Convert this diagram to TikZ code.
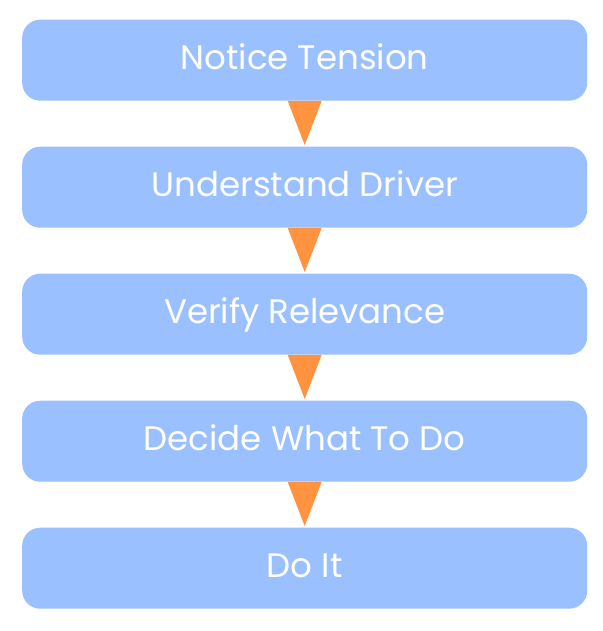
\documentclass[tikz,border=0pt]{standalone}
\usepackage{fontspec}
\setmainfont{Poppins}
\definecolor{boxblue}{HTML}{9BC0FF}
\definecolor{arroworange}{HTML}{FF9340}
\begin{document}
\begin{tikzpicture}[x=1pt,y=-1pt,
  stepbox/.style={fill=boxblue, rounded corners=18pt, minimum width=565pt, minimum height=81pt, inner sep=0pt, text height=24pt, text depth=6pt, text=white, font=\fontsize{34}{40}\selectfont, anchor=north west},
  tri/.style={fill=arroworange}]
\useasboundingbox (0,0) rectangle (602,631);
\node[stepbox] (b1) at (22,19.5) {Notice Tension};
\node[stepbox] (b2) at (22,146.5) {Understand Driver};
\node[stepbox] (b3) at (22,273.5) {Verify Relevance};
\node[stepbox] (b4) at (22,400.5) {Decide What To Do};
\node[stepbox] (b5) at (22,527.5) {Do It};
\foreach \a/\b in {b1/b2,b2/b3,b3/b4,b4/b5}{
  \fill[tri] ([xshift=-17pt]\a.south) -- ([xshift=17pt]\a.south) -- ([yshift=1.5pt]\b.north) -- cycle;
}
\end{tikzpicture}
\end{document}
